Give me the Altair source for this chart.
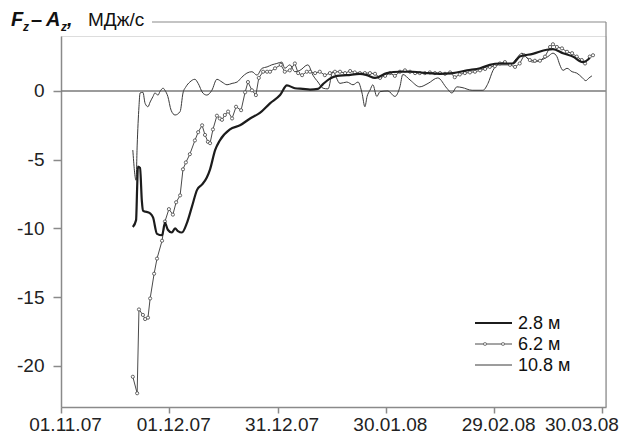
import altair as alt
import pandas as pd

# ---- data (day offsets from 01.11.2007, values in MJ/s) ----
start = pd.Timestamp("2007-11-01")

days_28 = [19.9, 20.8, 21.1, 21.3, 21.9, 22.4, 22.7, 24.7, 25.5, 26.6, 28.0, 28.8, 29.6, 30.7,
           31.6, 32.4, 33.5, 34.9, 36.3, 37.7, 39.1, 40.4, 41.3, 42.7, 44.0, 46.8, 49.6, 52.4,
           55.1, 57.9, 60.7, 62.6, 64.8, 67.0, 69.0, 71.2, 72.6, 74.5, 76.5, 79.2, 82.8, 84.8,
           87.0, 90.3, 93.9, 97.5, 101.4, 105.0, 108.6, 112.5, 116.1, 118.8, 121.6, 125.2,
           127.1, 130.7, 134.6, 136.3, 139.1, 141.8, 144.6, 146.5]
vals_28 = [-9.9, -9.4, -7.0, -5.5, -5.6, -8.0, -8.7, -8.9, -9.2, -10.4, -10.5, -9.6, -10.1, -10.3,
           -10.0, -10.2, -10.3, -9.6, -8.4, -7.2, -6.8, -6.3, -5.7, -4.3, -3.6, -2.8, -2.5, -2.0,
           -1.6, -0.9, -0.3, 0.4, 0.2, 0.15, 0.1, 0.15, 0.5, 0.9, 1.1, 1.15, 1.25, 1.15,
           0.95, 1.3, 1.4, 1.4, 1.3, 1.25, 1.3, 1.5, 1.65, 1.9, 2.0, 2.0,
           2.5, 2.7, 3.0, 3.05, 2.75, 2.5, 2.1, 2.4]

days_62 = [19.9, 21.1, 21.6, 22.7, 23.3, 24.1, 24.7, 25.8, 26.6, 28.0, 28.8, 29.9, 31.0, 31.9,
           33.0, 33.8, 34.6, 35.7, 37.1, 38.0, 39.1, 39.9, 40.7, 41.3, 42.1, 43.2, 44.0, 44.6,
           45.4, 46.3, 47.4, 48.5, 49.9, 51.0, 51.8, 52.9, 54.0, 54.8, 56.0, 57.1, 57.9, 59.3,
           60.9, 62.0, 63.4, 64.8, 65.7, 66.8, 68.1, 69.0, 70.4, 71.7, 73.1, 74.5, 75.9, 77.3,
           78.7, 80.1, 81.4, 82.8, 84.2, 85.6, 87.0, 88.4, 89.8, 91.1, 92.5, 93.9, 95.3, 96.7,
           98.1, 99.4, 100.8, 102.2, 103.6, 105.0, 106.4, 107.8, 109.1, 110.5, 111.9, 113.3,
           114.7, 116.1, 117.5, 118.8, 120.2, 121.6, 123.0, 124.4, 125.8, 127.1, 128.3, 129.9,
           131.3, 132.7, 134.1, 135.5, 136.3, 137.4, 138.8, 140.2, 141.6, 142.9, 144.3, 145.2,
           146.5, 147.4]
vals_62 = [-20.8, -22.0, -15.9, -16.3, -16.6, -16.5, -15.1, -13.3, -12.2, -10.9, -9.5, -8.6, -9.0, -8.1,
           -7.6, -5.7, -5.2, -4.6, -3.6, -3.0, -2.5, -3.2, -3.7, -3.8, -2.8, -1.8, -2.0, -2.1,
           -1.75, -1.5, -2.0, -1.15, -1.4, -0.1, 0.65, 0.05, -0.3, 0.95, 1.4, 1.4, 1.4, 1.65,
           1.9, 1.4, 1.5, 2.0, 1.3, 1.15, 1.4, 1.4, 1.3, 1.4, 1.15, 1.3, 1.4, 1.4,
           1.3, 1.45, 1.35, 1.3, 1.3, 1.3, 1.25, 0.95, 1.1, 1.3, 1.1, 1.4, 1.5, 1.4,
           1.3, 1.3, 1.3, 1.35, 1.3, 1.3, 1.25, 1.35, 1.0, 1.2, 1.3, 1.35,
           1.4, 1.5, 1.6, 1.75, 1.8, 2.0, 2.1, 1.9, 1.75, 2.0, 2.6, 2.25,
           2.2, 2.2, 2.5, 3.2, 3.4, 3.2, 3.1, 2.85, 2.75, 2.5, 2.25, 2.0,
           2.5, 2.6]

days_108 = [19.9, 20.8, 21.1, 21.6, 21.9, 22.7, 23.3, 24.1, 24.7, 25.5, 26.0, 26.9, 27.4, 28.3,
            28.8, 29.6, 30.5, 31.6, 33.0, 33.8, 34.6, 35.7, 37.1, 38.0, 39.3, 40.4, 41.8, 43.2,
            44.6, 46.0, 47.4, 48.8, 50.1, 51.5, 52.9, 54.3, 55.7, 57.1, 58.4, 59.8, 61.2, 62.0,
            63.4, 64.8, 66.2, 68.4, 69.8, 71.2, 72.6, 74.0, 75.3, 77.3, 79.2, 80.9, 82.3, 83.4,
            84.2, 84.8, 85.6, 86.4, 87.5, 88.4, 90.6, 92.5, 93.9, 94.7, 96.7, 99.4, 101.7, 104.4,
            106.9, 108.3, 109.7, 111.1, 113.9, 116.9, 118.3, 119.7, 121.1, 124.4, 126.3, 127.7,
            129.1, 130.7, 133.5, 134.9, 136.3, 137.4, 138.2, 139.1, 140.2, 141.6, 142.9, 144.3,
            145.4, 146.3, 147.1]
vals_108 = [-4.3, -6.5, -4.0, -1.15, -0.15, -0.1, -0.9, -1.15, -0.8, -0.4, -0.15, -0.3, -0.05, 0.2,
            0.05, -0.4, -1.4, -1.75, -1.5, -0.15, 0.3, 0.65, 0.85, 0.55, -0.15, -0.3, 0.05, 0.85,
            0.65, 0.45, 0.55, 0.65, 1.0, 1.3, 1.4, 1.15, 1.65, 1.75, 1.9, 2.0, 2.1, 1.65,
            1.9, 1.4, 1.5, 1.9, 1.15, 0.65, 0.2, 0.15, 1.4, 0.55, 0.65, 0.45, 0.65, -0.15,
            -1.15, -0.4, 0.05, 0.45, -0.4, -0.05, 0.0, -0.4, 0.3, 1.2, 0.8, 0.3, 0.55, 0.95,
            0.2, -0.15, 0.3, 0.25, 0.05, 0.05, 0.55, 1.5, 1.9, 1.9, 2.4, 2.75,
            2.4, 2.1, 2.3, 2.5, 2.75, 2.5, 1.9, 1.5, 1.65, 1.4, 1.3, 1.0,
            0.75, 0.95, 1.1]

series_labels = ["2.8 м", "6.2 м", "10.8 м"]
y_ticks = [-20, -15, -10, -5, 0]
x_tick_dates = [(2007, 11, 1), (2007, 12, 1), (2007, 12, 31), (2008, 1, 30), (2008, 2, 29), (2008, 3, 30)]
zero_level = [0]

FONT = "Liberation Sans"
AX = "#8a8a8a"


def frame(days, vals):
    return pd.DataFrame({"date": start + pd.to_timedelta(days, unit="D"), "v": vals})


x_scale = alt.Scale(domain=[alt.DateTime(year=2007, month=11, date=1),
                            alt.DateTime(year=2008, month=3, date=31)])
y_scale = alt.Scale(domain=[-23, 4], nice=False, zero=False)

x_axis = alt.Axis(
    values=[alt.DateTime(year=a, month=b, date=c) for a, b, c in x_tick_dates],
    format="%d.%m.%y", title=None, grid=False,
    domainColor=AX, domainWidth=1.5, tickColor=AX, tickWidth=1.5, tickSize=6,
    labelFont=FONT, labelFontSize=19, labelColor="#222", labelPadding=2,
    labelAlign={"condition": {"test": "datum.value > datetime(2008, 2, 15)", "value": "right"}, "value": "center"},
    labelOffset={"condition": {"test": "datum.value > datetime(2008, 2, 15)", "value": 16}, "value": 4},
)
y_axis = alt.Axis(
    values=y_ticks, title=None, grid=False, labelExpr="'' + datum.value",
    domainColor=AX, domainWidth=1.5, tickColor=AX, tickWidth=1.5, tickSize=8,
    labelFont=FONT, labelFontSize=19, labelColor="#222", labelPadding=9,
)

X = alt.X("date:T", scale=x_scale, axis=x_axis)
Y = alt.Y("v:Q", scale=y_scale, axis=y_axis)

line_108 = alt.Chart(frame(days_108, vals_108)).mark_line(
    color="#3a3a3a", strokeWidth=1.0, interpolate="monotone").encode(x=X, y=Y)
line_62 = alt.Chart(frame(days_62, vals_62)).mark_line(
    color="#4a4a4a", strokeWidth=1.0,
    point=alt.OverlayMarkDef(shape="circle", size=10, filled=True, fill="white",
                             stroke="#555", strokeWidth=0.9)
).encode(x=X, y=Y)
line_28 = alt.Chart(frame(days_28, vals_28)).mark_line(
    color="#1c1c1c", strokeWidth=2.2, interpolate="monotone").encode(x=X, y=Y)

zero = alt.Chart(pd.DataFrame({"v": zero_level})).mark_rule(
    color="#7a7a7a", strokeWidth=1.5).encode(y=alt.Y("v:Q", scale=y_scale))

# frame (top and right borders of the plot area)
frame_top = alt.Chart(pd.DataFrame({"a": [0]})).mark_rule(color=AX, strokeWidth=1.2).encode(
    x=alt.value(91), x2=alt.value(545), y=alt.value(-14))
frame_right = alt.Chart(pd.DataFrame({"a": [0]})).mark_rule(color=AX, strokeWidth=1.2).encode(
    x=alt.value(545), y=alt.value(-14), y2=alt.value(371))


# title "Fz – Az, МДж/с"
def txt(s, x, y, size=19, weight="bold", style="italic"):
    return alt.Chart(pd.DataFrame({"t": [s]})).mark_text(
        text=s, font=FONT, fontSize=size, fontWeight=weight, fontStyle=style,
        align="left", baseline="alphabetic", color="#111").encode(
        x=alt.value(x), y=alt.value(y))


title_parts = [
    txt("F", -50, -10, size=20),
    txt("z", -38, -5, size=12),
    txt("–", -30, -10, size=20, style="normal"),
    txt("A", -15, -10, size=20),
    txt("z", 0, -5, size=12),
    txt(",", 6, -10, size=20),
    txt("МДж/с", 27, -10, weight="normal", style="normal"),
]

# legend
leg_y = [287, 308, 329]
leg_layers = [
    alt.Chart(pd.DataFrame({"a": [0]})).mark_rule(color="#1c1c1c", strokeWidth=2.2).encode(
        x=alt.value(414), x2=alt.value(451), y=alt.value(leg_y[0])),
    alt.Chart(pd.DataFrame({"a": [0]})).mark_rule(color="#4a4a4a", strokeWidth=1.0).encode(
        x=alt.value(414), x2=alt.value(451), y=alt.value(leg_y[1])),
    alt.Chart(pd.DataFrame({"a": [0]})).mark_point(shape="circle", size=10, filled=True, fill="white",
                                                  stroke="#555", strokeWidth=0.9).encode(
        x=alt.value(424), y=alt.value(leg_y[1])),
    alt.Chart(pd.DataFrame({"a": [0]})).mark_point(shape="circle", size=10, filled=True, fill="white",
                                                  stroke="#555", strokeWidth=0.9).encode(
        x=alt.value(442), y=alt.value(leg_y[1])),
    alt.Chart(pd.DataFrame({"a": [0]})).mark_rule(color="#3a3a3a", strokeWidth=1.0).encode(
        x=alt.value(414), x2=alt.value(451), y=alt.value(leg_y[2])),
]
for lbl, yy in zip(series_labels, leg_y):
    leg_layers.append(txt(lbl, 457, yy + 6, size=18, weight="normal", style="normal"))

chart = alt.layer(
    zero, line_108, line_62, line_28, frame_top, frame_right, *title_parts, *leg_layers
).properties(
    width=545, height=371,
    autosize=alt.AutoSizeParams(type="none"),
    padding={"left": 53, "top": 28, "right": 15, "bottom": 30},
).configure_view(stroke=None).configure(background="white")

chart.save("out.html", embed_options={"renderer": "svg", "actions": False})
